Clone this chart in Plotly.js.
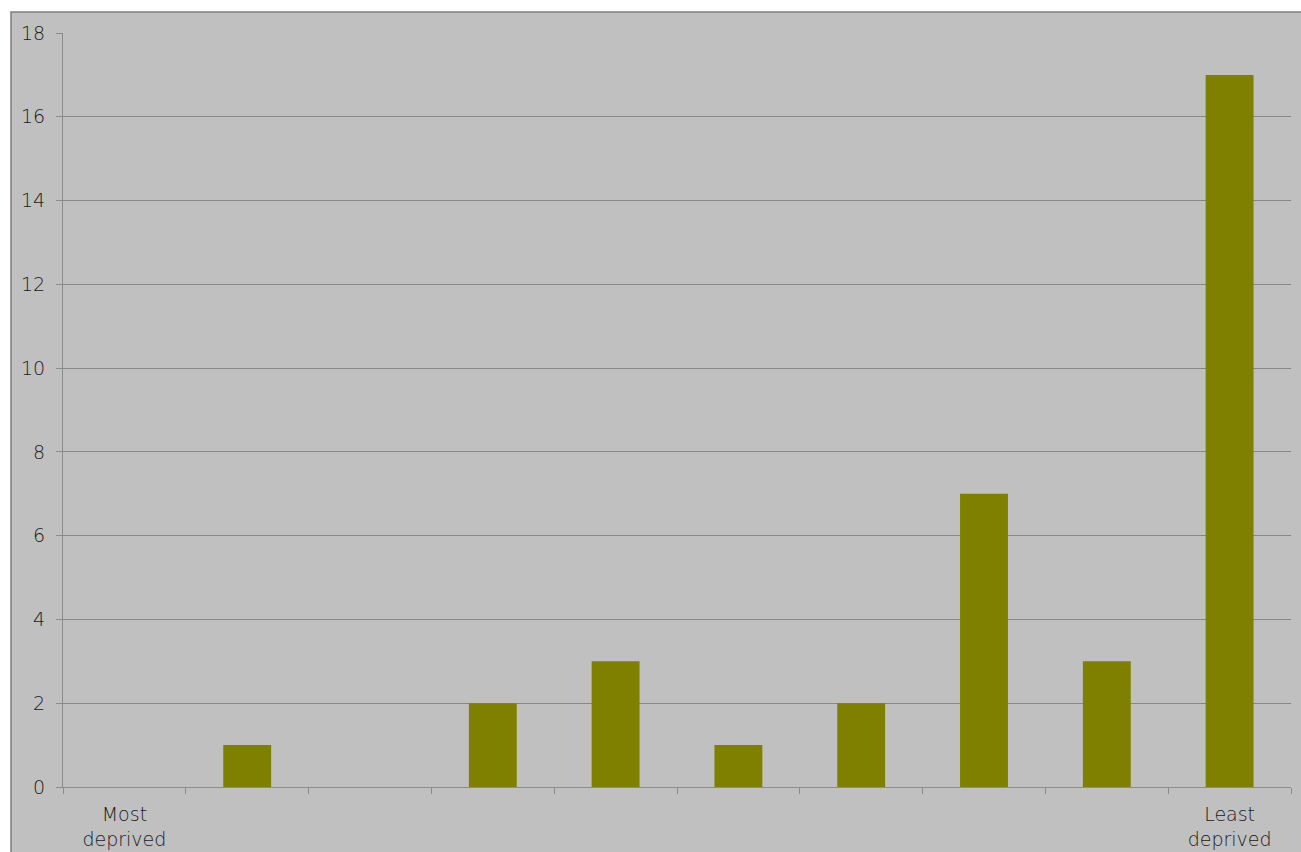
<!DOCTYPE html>
<html>
<head>
<meta charset="utf-8">
<script src="https://cdn.plot.ly/plotly-3.0.1.min.js"></script>
<style>html,body{margin:0;padding:0;background:#fff;}#chart{width:1301px;height:852px;}</style>
</head>
<body>
<div id="chart"></div>
<script>
var categories = ["1", "2", "3", "4", "5", "6", "7", "8", "9", "10"];
var values = [0, 1, 0, 2, 3, 1, 2, 7, 3, 17];
var tickLabels = ["Most<br>deprived", "", "", "", "", "", "", "", "", "Least<br>deprived"];
var yTicks = [0, 2, 4, 6, 8, 10, 12, 14, 16, 18];

var W = 1301, H = 852, ml = 63, mr = 10, mt = 33, mb = 65;
var pw = W - ml - mr, ph = H - mt - mb;

var tickFont = {family: "'DejaVu Sans', sans-serif", size: 19, color: "#1a1a1a", weight: 300};

var trace = {
  type: "bar",
  x: categories,
  y: values,
  marker: {color: "#808000", line: {width: 0}},
  hoverinfo: "x+y"
};

var layout = {
  width: W, height: H,
  margin: {l: ml, r: mr, t: mt, b: mb, pad: 0},
  paper_bgcolor: "#ffffff",
  plot_bgcolor: "rgba(0,0,0,0)",
  showlegend: false,
  bargap: 0.61,
  font: tickFont,
  xaxis: {
    type: "category",
    categoryorder: "array",
    categoryarray: categories,
    tickvals: categories,
    ticktext: tickLabels,
    tickson: "boundaries",
    ticks: "outside",
    ticklen: 6,
    tickcolor: "#8c8c8c",
    ticklabelstandoff: 10,
    showline: true,
    linecolor: "#8c8c8c",
    linewidth: 1,
    showgrid: false,
    zeroline: false,
    tickfont: tickFont
  },
  yaxis: {
    range: [0, 18],
    tickvals: yTicks,
    ticks: "outside",
    ticklen: 6,
    tickcolor: "#8c8c8c",
    ticklabelstandoff: 7,
    showline: true,
    linecolor: "#8c8c8c",
    linewidth: 1,
    showgrid: true,
    gridcolor: "#878787",
    gridwidth: 1,
    zeroline: false,
    tickfont: tickFont
  },
  shapes: [{
    type: "rect", xref: "paper", yref: "paper", layer: "below",
    x0: -(ml - 11) / pw, x1: 1 + (mr + 5) / pw,
    y0: -(mb + 5) / ph, y1: 1 + (mt - 12) / ph,
    fillcolor: "#c0c0c0",
    line: {color: "#7f7f7f", width: 1.5}
  }]
};

Plotly.newPlot("chart", [trace], layout, {displayModeBar: false, staticPlot: true});
</script>
</body>
</html>
